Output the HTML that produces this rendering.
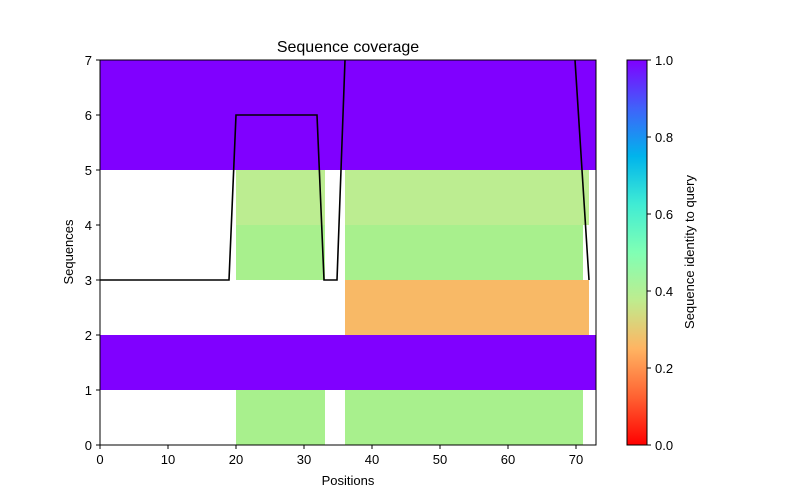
<!DOCTYPE html>
<html><head><meta charset="utf-8"><style>body{margin:0;background:#fff}svg{display:block;font-family:"Liberation Sans",sans-serif}</style></head><body>
<svg width="800" height="500" viewBox="0 0 800 500" xmlns="http://www.w3.org/2000/svg">
<defs>
<linearGradient id="cb" x1="0" y1="1" x2="0" y2="0">
<stop offset="0" stop-color="rgb(255,0,0)"/>
<stop offset="0.125" stop-color="rgb(255,98,50)"/>
<stop offset="0.25" stop-color="rgb(255,180,98)"/>
<stop offset="0.375" stop-color="rgb(191,236,142)"/>
<stop offset="0.5" stop-color="rgb(128,255,180)"/>
<stop offset="0.625" stop-color="rgb(64,236,212)"/>
<stop offset="0.75" stop-color="rgb(0,180,236)"/>
<stop offset="0.875" stop-color="rgb(64,98,250)"/>
<stop offset="1" stop-color="rgb(128,0,255)"/>
</linearGradient>
<clipPath id="ax"><rect x="100" y="60" width="496" height="385"/></clipPath>
</defs>
<rect x="100" y="60" width="496" height="110" fill="#8000ff"/>
<rect x="236" y="170" width="89" height="55" fill="#bced91"/>
<rect x="345" y="170" width="244" height="55" fill="#bced91"/>
<rect x="236" y="225" width="89" height="55" fill="#a8f08d"/>
<rect x="345" y="225" width="238" height="55" fill="#a8f08d"/>
<rect x="345" y="280" width="244" height="55" fill="#f8b966"/>
<rect x="100" y="335" width="496" height="55" fill="#8000ff"/>
<rect x="236" y="390" width="89" height="55" fill="#a8f08d"/>
<rect x="345" y="390" width="238" height="55" fill="#a8f08d"/>
<polyline clip-path="url(#ax)" fill="none" stroke="#000" stroke-width="1.6" points="100,280 229,280 236,115 317,115 324,280 337,280 345,60 348,0 573,0 575,60 589,280"/>
<rect x="100" y="60" width="496" height="385" fill="none" stroke="#000" stroke-width="1"/>
<g stroke="#000" stroke-width="1">
<line x1="100" y1="445" x2="100" y2="449"/><line x1="168" y1="445" x2="168" y2="449"/><line x1="236" y1="445" x2="236" y2="449"/><line x1="304" y1="445" x2="304" y2="449"/><line x1="372" y1="445" x2="372" y2="449"/><line x1="440" y1="445" x2="440" y2="449"/><line x1="508" y1="445" x2="508" y2="449"/><line x1="576" y1="445" x2="576" y2="449"/>
<line x1="96" y1="445" x2="100" y2="445"/><line x1="96" y1="390" x2="100" y2="390"/><line x1="96" y1="335" x2="100" y2="335"/><line x1="96" y1="280" x2="100" y2="280"/><line x1="96" y1="225" x2="100" y2="225"/><line x1="96" y1="170" x2="100" y2="170"/><line x1="96" y1="115" x2="100" y2="115"/><line x1="96" y1="60" x2="100" y2="60"/>
</g>
<g font-size="13" fill="#000" text-anchor="middle">
<text x="100" y="464">0</text><text x="168" y="464">10</text><text x="236" y="464">20</text><text x="304" y="464">30</text><text x="372" y="464">40</text><text x="440" y="464">50</text><text x="508" y="464">60</text><text x="576" y="464">70</text>
<text x="348" y="485">Positions</text>
<text x="348" y="52" font-size="16">Sequence coverage</text>
</g>
<g font-size="13" fill="#000" text-anchor="end">
<text x="92" y="450">0</text><text x="92" y="395">1</text><text x="92" y="340">2</text><text x="92" y="285">3</text><text x="92" y="230">4</text><text x="92" y="175">5</text><text x="92" y="120">6</text><text x="92" y="65">7</text>
</g>
<text transform="translate(73,252) rotate(-90)" font-size="13" text-anchor="middle">Sequences</text>
<rect x="627" y="60" width="20" height="385" fill="url(#cb)" stroke="#000" stroke-width="1"/>
<g stroke="#000"><line x1="647" y1="445" x2="651" y2="445"/><line x1="647" y1="368" x2="651" y2="368"/><line x1="647" y1="291" x2="651" y2="291"/><line x1="647" y1="214" x2="651" y2="214"/><line x1="647" y1="137" x2="651" y2="137"/><line x1="647" y1="60" x2="651" y2="60"/></g>
<g font-size="13" fill="#000">
<text x="655" y="450">0.0</text><text x="655" y="373">0.2</text><text x="655" y="296">0.4</text><text x="655" y="219">0.6</text><text x="655" y="142">0.8</text><text x="655" y="65">1.0</text>
</g>
<text transform="translate(694,252) rotate(-90)" font-size="13" text-anchor="middle">Sequence identity to query</text>
</svg>
</body></html>
